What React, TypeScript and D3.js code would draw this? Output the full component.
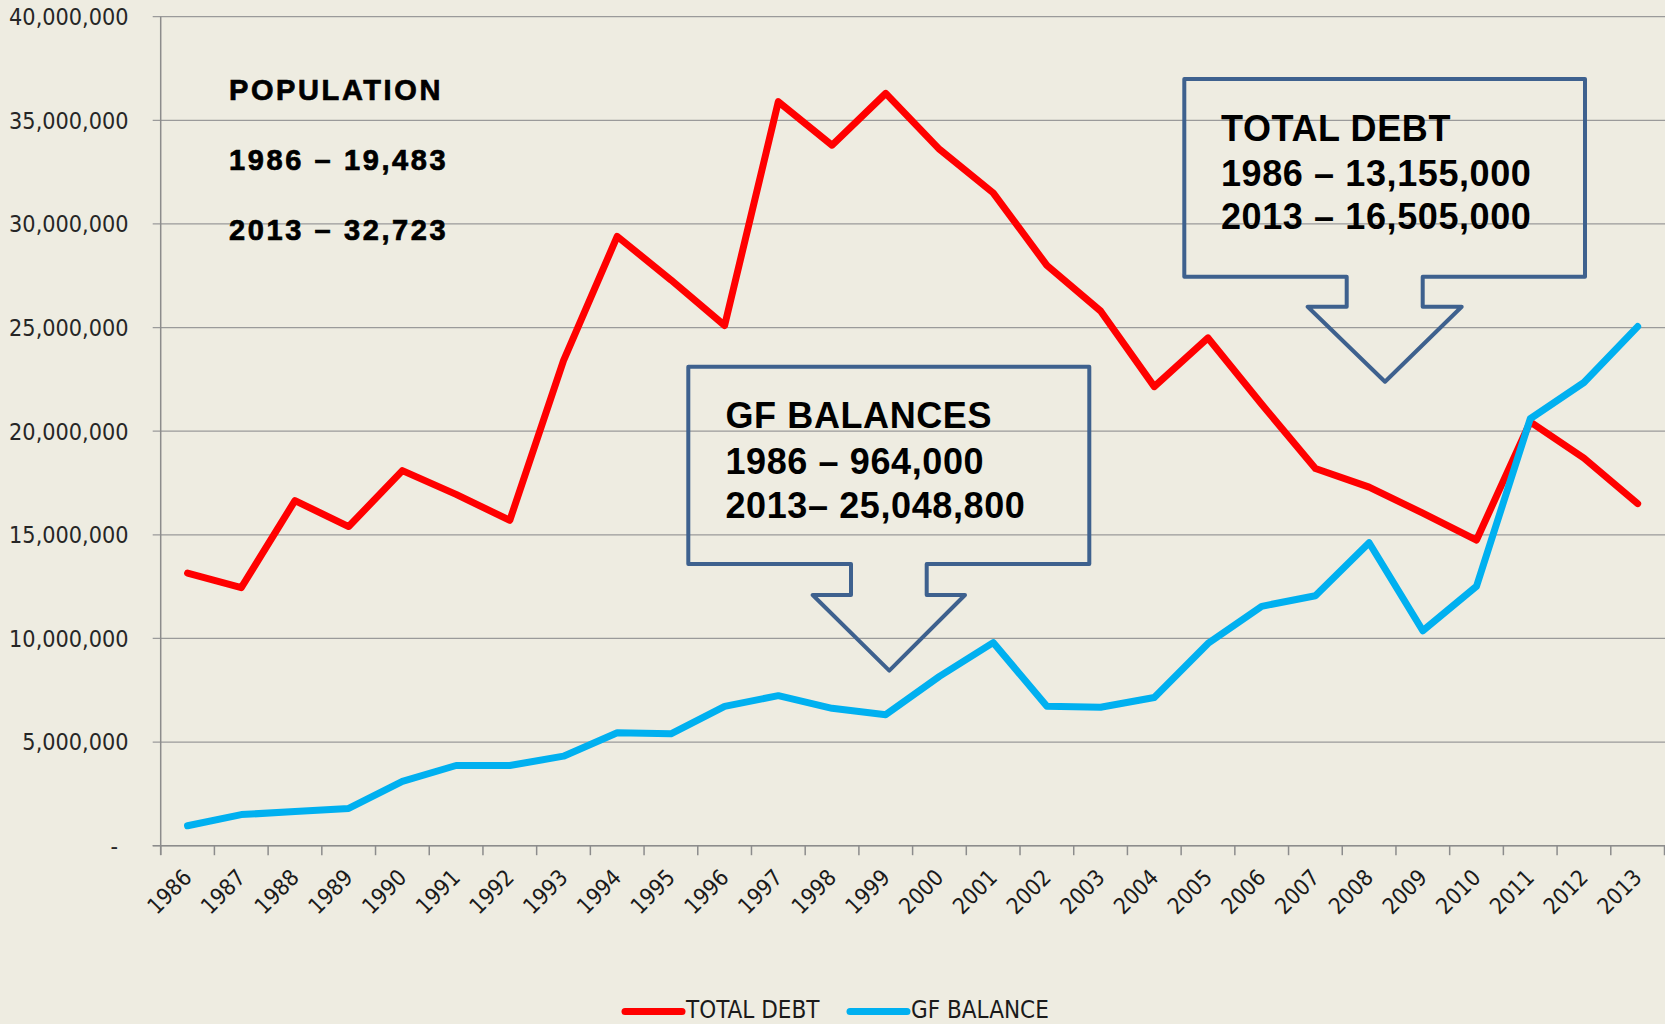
import React, { useEffect, useRef } from "react";
import * as d3 from "d3";

// years on the category axis
const years = [
  "1986", "1987", "1988", "1989", "1990", "1991", "1992", "1993", "1994", "1995",
  "1996", "1997", "1998", "1999", "2000", "2001", "2002", "2003", "2004", "2005",
  "2006", "2007", "2008", "2009", "2010", "2011", "2012", "2013",
];

const totalDebt = [
  13155000, 12450000, 16650000, 15400000, 18100000, 16950000, 15700000, 23400000,
  29400000, 27300000, 25100000, 35900000, 33800000, 36300000, 33600000, 31500000,
  28000000, 25800000, 22150000, 24500000, 21300000, 18200000, 17300000, 16050000,
  14750000, 20450000, 18700000, 16505000,
];
const gfBalance = [
  964000, 1500000, 1650000, 1800000, 3100000, 3870000, 3870000, 4320000,
  5450000, 5400000, 6720000, 7240000, 6630000, 6320000, 8170000, 9800000,
  6730000, 6680000, 7150000, 9760000, 11550000, 12060000, 14620000, 10370000,
  12520000, 20600000, 22350000, 25048800,
];

const yTicks = [0, 5000000, 10000000, 15000000, 20000000, 25000000, 30000000, 35000000, 40000000];

const populationNote = ["POPULATION", "1986 \u2013 19,483", "2013 \u2013 32,723"];
const gfNote = ["GF BALANCES", "1986 \u2013 964,000", "2013\u2013 25,048,800"];
const debtNote = ["TOTAL DEBT", "1986 \u2013 13,155,000", "2013 \u2013 16,505,000"];

const WIDTH = 1665;
const HEIGHT = 1024;
const BG = "#EEECE1";
const RED = "#FF0000";
const BLUE = "#00B0F0";
const BOX = "#3E618E";
const AXIS_FONT = "'DejaVu Sans Condensed', 'DejaVu Sans', sans-serif";
const NOTE_FONT = "'Liberation Sans', Arial, sans-serif";

// callout outline: box with a down arrow under it
function calloutPath(b: { l: number; t: number; r: number; b: number; sl: number; sr: number; sh: number; al: number; ar: number; tx: number; ty: number }) {
  return `M${b.l},${b.t}H${b.r}V${b.b}H${b.sr}V${b.sh}H${b.ar}L${b.tx},${b.ty}L${b.al},${b.sh}H${b.sl}V${b.b}H${b.l}Z`;
}

export default function App() {
  const ref = useRef<SVGSVGElement>(null);

  useEffect(() => {
    const svg = d3.select(ref.current);
    svg.selectAll("*").remove();

    const x = d3.scaleBand().domain(years).range([160.7, 1664.5]);
    const y = d3.scaleLinear().domain([0, 40000000]).range([845.7, 16.7]);
    const cx = (d: string) => (x(d) as number) + x.bandwidth() / 2;

    svg.append("rect").attr("width", WIDTH).attr("height", HEIGHT).attr("fill", BG);

    // gridlines + y labels
    const grid = svg.append("g");
    grid.selectAll("line").data(yTicks).enter().append("line")
      .attr("x1", 152.7).attr("x2", WIDTH)
      .attr("y1", (d) => y(d)).attr("y2", (d) => y(d))
      .attr("stroke", "#9A9A9A").attr("stroke-width", 1.3);
    grid.selectAll("text").data(yTicks).enter().append("text")
      .attr("x", (d) => (d === 0 ? 118 : 128.5))
      .attr("y", (d) => y(d) + 8.3)
      .attr("text-anchor", "end")
      .attr("font-family", AXIS_FONT).attr("font-size", 23.2)
      .attr("fill", "#262626")
      .text((d) => (d === 0 ? "-" : d3.format(",")(d)));

    // axes
    svg.append("line").attr("x1", 160.7).attr("x2", 160.7).attr("y1", y(40000000)).attr("y2", 855)
      .attr("stroke", "#8C8C8C").attr("stroke-width", 1.5);
    svg.append("line").attr("x1", 152.7).attr("x2", WIDTH).attr("y1", y(0)).attr("y2", y(0))
      .attr("stroke", "#8C8C8C").attr("stroke-width", 1.5);
    const edges = years.map((d) => x(d) as number).concat([x.range()[1]]);
    svg.append("g").selectAll("line").data(edges).enter().append("line")
      .attr("x1", (d) => d).attr("x2", (d) => d).attr("y1", y(0)).attr("y2", y(0) + 9.5)
      .attr("stroke", "#8C8C8C").attr("stroke-width", 1.5);
    svg.append("g").selectAll("text").data(years).enter().append("text")
      .attr("transform", (d) => `translate(${cx(d) + 5.5},879) rotate(-45)`)
      .attr("text-anchor", "end")
      .attr("font-family", AXIS_FONT).attr("font-size", 22.5)
      .attr("fill", "#1A1A1A")
      .text((d) => d);

    // series
    const line = d3.line<number>().x((_, i) => cx(years[i])).y((d) => y(d));
    [[totalDebt, RED], [gfBalance, BLUE]].forEach(([vals, col]) => {
      svg.append("path").attr("d", line(vals as number[]))
        .attr("fill", "none").attr("stroke", col as string).attr("stroke-width", 7)
        .attr("stroke-linejoin", "round").attr("stroke-linecap", "round");
    });

    // population note
    const pop = svg.append("g").attr("font-family", NOTE_FONT).attr("font-weight", 900)
      .attr("font-size", 29).attr("letter-spacing", 2.6).attr("fill", "#000")
      .attr("stroke", "#000").attr("stroke-width", 0.7);
    pop.selectAll("text").data(populationNote).enter().append("text")
      .attr("x", 229).attr("y", (_, i) => [100, 170, 240][i]).text((d) => d);

    // callouts
    const callouts = [
      { lines: gfNote, tx0: 725.5, base: [428.3, 474, 518.3],
        shape: { l: 688.3, t: 366.7, r: 1089.3, b: 564, sl: 851, sr: 926.7, sh: 595, al: 812.7, ar: 965, tx: 889.3, ty: 670.7 } },
      { lines: debtNote, tx0: 1221, base: [140.7, 186, 229.3],
        shape: { l: 1184.3, t: 79, r: 1585, b: 276.7, sl: 1346.7, sr: 1422.7, sh: 306.7, al: 1307.7, ar: 1461.7, tx: 1385, ty: 381.7 } },
    ];
    callouts.forEach((c) => {
      svg.append("path").attr("d", calloutPath(c.shape)).attr("fill", "none")
        .attr("stroke", BOX).attr("stroke-width", 4).attr("stroke-linejoin", "round");
      const g = svg.append("g").attr("font-family", NOTE_FONT).attr("font-weight", "bold")
        .attr("font-size", 36).attr("letter-spacing", 0.6).attr("fill", "#000");
      g.selectAll("text").data(c.lines).enter().append("text")
        .attr("x", c.tx0).attr("y", (_, i) => c.base[i]).text((d) => d);
    });

    // legend (nudged up a little so the text is not clipped by the bottom edge)
    const legend = [
      { name: "TOTAL DEBT", col: RED, x0: 625 },
      { name: "GF BALANCE", col: BLUE, x0: 850 },
    ];
    legend.forEach((l) => {
      svg.append("line").attr("x1", l.x0).attr("x2", l.x0 + 57).attr("y1", 1011.5).attr("y2", 1011.5)
        .attr("stroke", l.col).attr("stroke-width", 7).attr("stroke-linecap", "round");
      svg.append("text").attr("x", l.x0 + 61).attr("y", 1018)
        .attr("font-family", AXIS_FONT).attr("font-size", 24).attr("fill", "#1A1A1A")
        .text(l.name);
    });
  }, []);

  return (
    <svg ref={ref} width={WIDTH} height={HEIGHT}
      style={{ position: "absolute", left: 0, top: 0, display: "block" }} />
  );
}
